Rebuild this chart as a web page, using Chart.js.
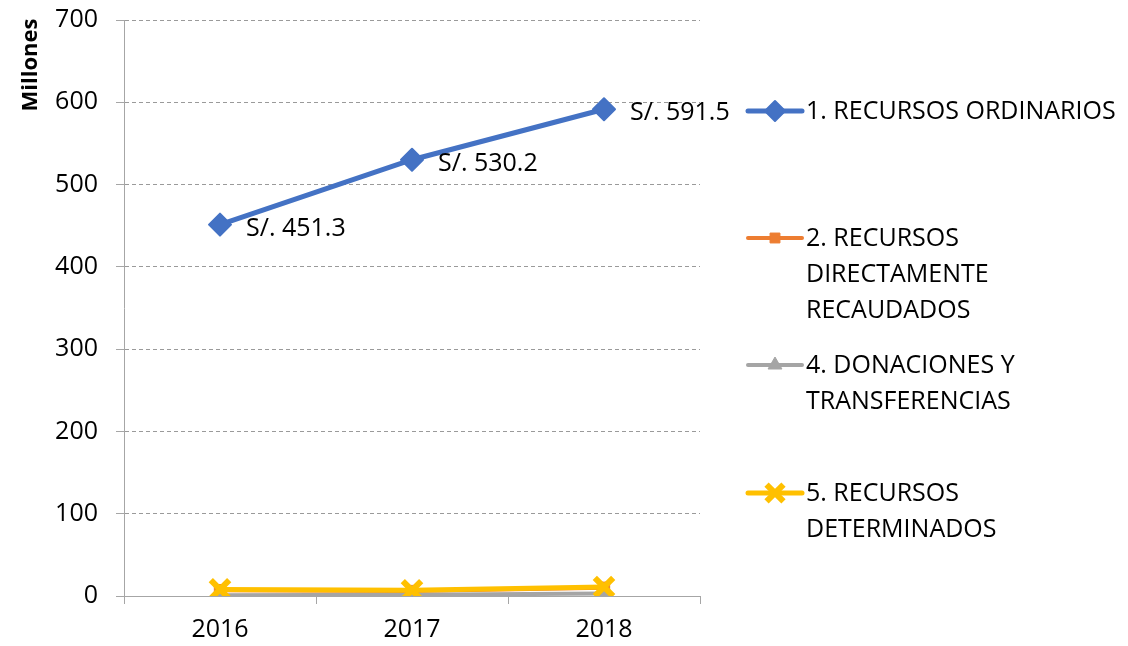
<!DOCTYPE html>
<html>
<head>
<meta charset="utf-8">
<script src="https://cdn.jsdelivr.net/npm/chart.js@4"></script>
<style>
  html, body { margin: 0; padding: 0; background: #ffffff; }
  #wrap { width: 1128px; height: 646px; }
</style>
</head>
<body>
<div id="wrap"><canvas id="c" width="1128" height="646"></canvas></div>
<script>
// Años del período
const years = ['2016', '2017', '2018'];

// Montos por fuente de financiamiento (millones de soles)
const recursosOrdinarios = [451.3, 530.2, 591.5];
const directamenteRecaudados = [7, 6, 10];
const donacionesTransferencias = [1, 1.5, 3];
const recursosDeterminados = [8, 7, 11];

// Nombres de las series, partidos en líneas para la leyenda
const seriesNames = [
  ['1. RECURSOS ORDINARIOS'],
  ['2. RECURSOS', 'DIRECTAMENTE', 'RECAUDADOS'],
  ['4. DONACIONES Y', 'TRANSFERENCIAS'],
  ['5. RECURSOS', 'DETERMINADOS']
];

// Eje vertical
const yMin = 0, yMax = 700, yStep = 100;
const yTitle = 'Millones';
const labelPrefix = 'S/. ';

const FONT = 'Open Sans';
const FONT_SIZE = 25;

// Esquinas redondeadas en los marcadores
const roundJoins = {
  id: 'roundJoins',
  beforeDatasetsDraw(chart) { chart.ctx.lineJoin = 'round'; },
  afterDatasetsDraw(chart) { chart.ctx.lineJoin = 'miter'; }
};

// Etiquetas de valor a la derecha de cada punto de la primera serie
const valueLabels = {
  id: 'valueLabels',
  afterDatasetsDraw(chart) {
    const ctx = chart.ctx;
    const meta = chart.getDatasetMeta(0);
    const ds = chart.data.datasets[0];
    ctx.save();
    ctx.font = FONT_SIZE + 'px "' + FONT + '"';
    ctx.fillStyle = '#000';
    ctx.textAlign = 'left';
    ctx.textBaseline = 'middle';
    meta.data.forEach((pt, i) => {
      ctx.fillText(labelPrefix + ds.data[i].toFixed(1), pt.x + 26, pt.y + 4);
    });
    ctx.restore();
  }
};

// Título del eje vertical, arriba a la izquierda
const axisTitle = {
  id: 'axisTitle',
  afterDraw(chart) {
    const ctx = chart.ctx;
    ctx.save();
    ctx.translate(31, 65);
    ctx.rotate(-Math.PI / 2);
    ctx.font = 'bold 22px "' + FONT + '"';
    ctx.fillStyle = '#000';
    ctx.textAlign = 'center';
    ctx.textBaseline = 'middle';
    ctx.fillText(yTitle, 0, 0);
    ctx.restore();
  }
};

// Leyenda a la derecha con nombres en varias líneas
const sideLegend = {
  id: 'sideLegend',
  afterDraw(chart, args, opts) {
    const ctx = chart.ctx;
    ctx.save();
    chart.data.datasets.forEach((ds, i) => {
      const y = opts.rows[i];
      const x0 = opts.x, x1 = opts.x + opts.lineLen;
      ctx.strokeStyle = ds.borderColor;
      ctx.lineWidth = ds.borderWidth;
      ctx.lineCap = 'round';
      ctx.beginPath();
      ctx.moveTo(x0, y);
      ctx.lineTo(x1, y);
      ctx.stroke();
      ctx.lineCap = 'butt';
      ctx.lineJoin = 'round';
      ctx.fillStyle = ds.pointBackgroundColor;
      ctx.strokeStyle = ds.pointBorderColor;
      ctx.lineWidth = ds.legendBorder;
      Chart.helpers.drawPoint(ctx, {
        pointStyle: ds.pointStyle,
        radius: ds.legendRadius,
        borderWidth: ds.legendBorder,
        rotation: 0
      }, (x0 + x1) / 2, y);
      ctx.font = FONT_SIZE + 'px "' + FONT + '"';
      ctx.fillStyle = '#000';
      ctx.textAlign = 'left';
      ctx.textBaseline = 'middle';
      seriesNames[i].forEach((line, k) => {
        ctx.fillText(line, x1 + 4, y + 1 + k * opts.lineHeight);
      });
    });
    ctx.restore();
  }
};

function series(label, data, color, style, radius, border, legendRadius, legendBorder, width, order) {
  return {
    label: label,
    data: data,
    borderColor: color,
    backgroundColor: color,
    pointBackgroundColor: color,
    pointBorderColor: color,
    borderWidth: width,
    pointStyle: style,
    pointRadius: radius,
    pointHoverRadius: radius,
    pointBorderWidth: border,
    legendRadius: legendRadius,
    legendBorder: legendBorder,
    tension: 0,
    fill: false,
    order: order
  };
}

new Chart(document.getElementById('c'), {
  type: 'line',
  data: {
    labels: years,
    datasets: [
      series(seriesNames[0].join(' '), recursosOrdinarios, '#4472C4', 'rectRot', 11, 2, 10, 2, 5, 0),
      series(seriesNames[1].join(' '), directamenteRecaudados, '#ED7D31', 'rect', 8, 1, 7, 1, 4, 3),
      series(seriesNames[2].join(' '), donacionesTransferencias, '#A5A5A5', 'triangle', 9, 1, 8, 1, 4, 2),
      series(seriesNames[3].join(' '), recursosDeterminados, '#FFC000', 'crossRot', 13, 6, 12, 6, 5, 1)
    ]
  },
  options: {
    responsive: false,
    animation: false,
    devicePixelRatio: 1,
    layout: { padding: { left: 0, top: 20, right: 428, bottom: 0 } },
    plugins: {
      legend: { display: false },
      tooltip: { enabled: false },
      sideLegend: { x: 748, lineLen: 54, lineHeight: 36, rows: [111, 238, 365, 493] }
    },
    scales: {
      x: {
        offset: true,
        afterFit(scale) {
          scale.height = 50;
          scale.paddingLeft = 0;
          scale.paddingRight = 0;
        },
        grid: {
          offset: true,
          drawOnChartArea: false,
          drawTicks: true,
          tickLength: 8,
          color: '#A6A6A6',
          lineWidth: 1
        },
        border: { color: '#A6A6A6', width: 1 },
        ticks: {
          color: '#000',
          font: { family: FONT, size: FONT_SIZE },
          padding: 11
        }
      },
      y: {
        min: yMin,
        max: yMax,
        afterFit(scale) {
          scale.width = 124;
          scale.paddingTop = 0;
          scale.paddingBottom = 0;
        },
        grid: {
          color: '#9a9a9a',
          lineWidth: 1,
          tickBorderDash: [],
          tickLength: 8,
          tickColor: '#A6A6A6'
        },
        border: { color: '#A6A6A6', width: 1, dash: [4, 3] },
        ticks: {
          stepSize: yStep,
          color: '#000',
          font: { family: FONT, size: FONT_SIZE },
          padding: 18
        }
      }
    }
  },
  plugins: [roundJoins, valueLabels, axisTitle, sideLegend]
});
</script>
</body>
</html>
